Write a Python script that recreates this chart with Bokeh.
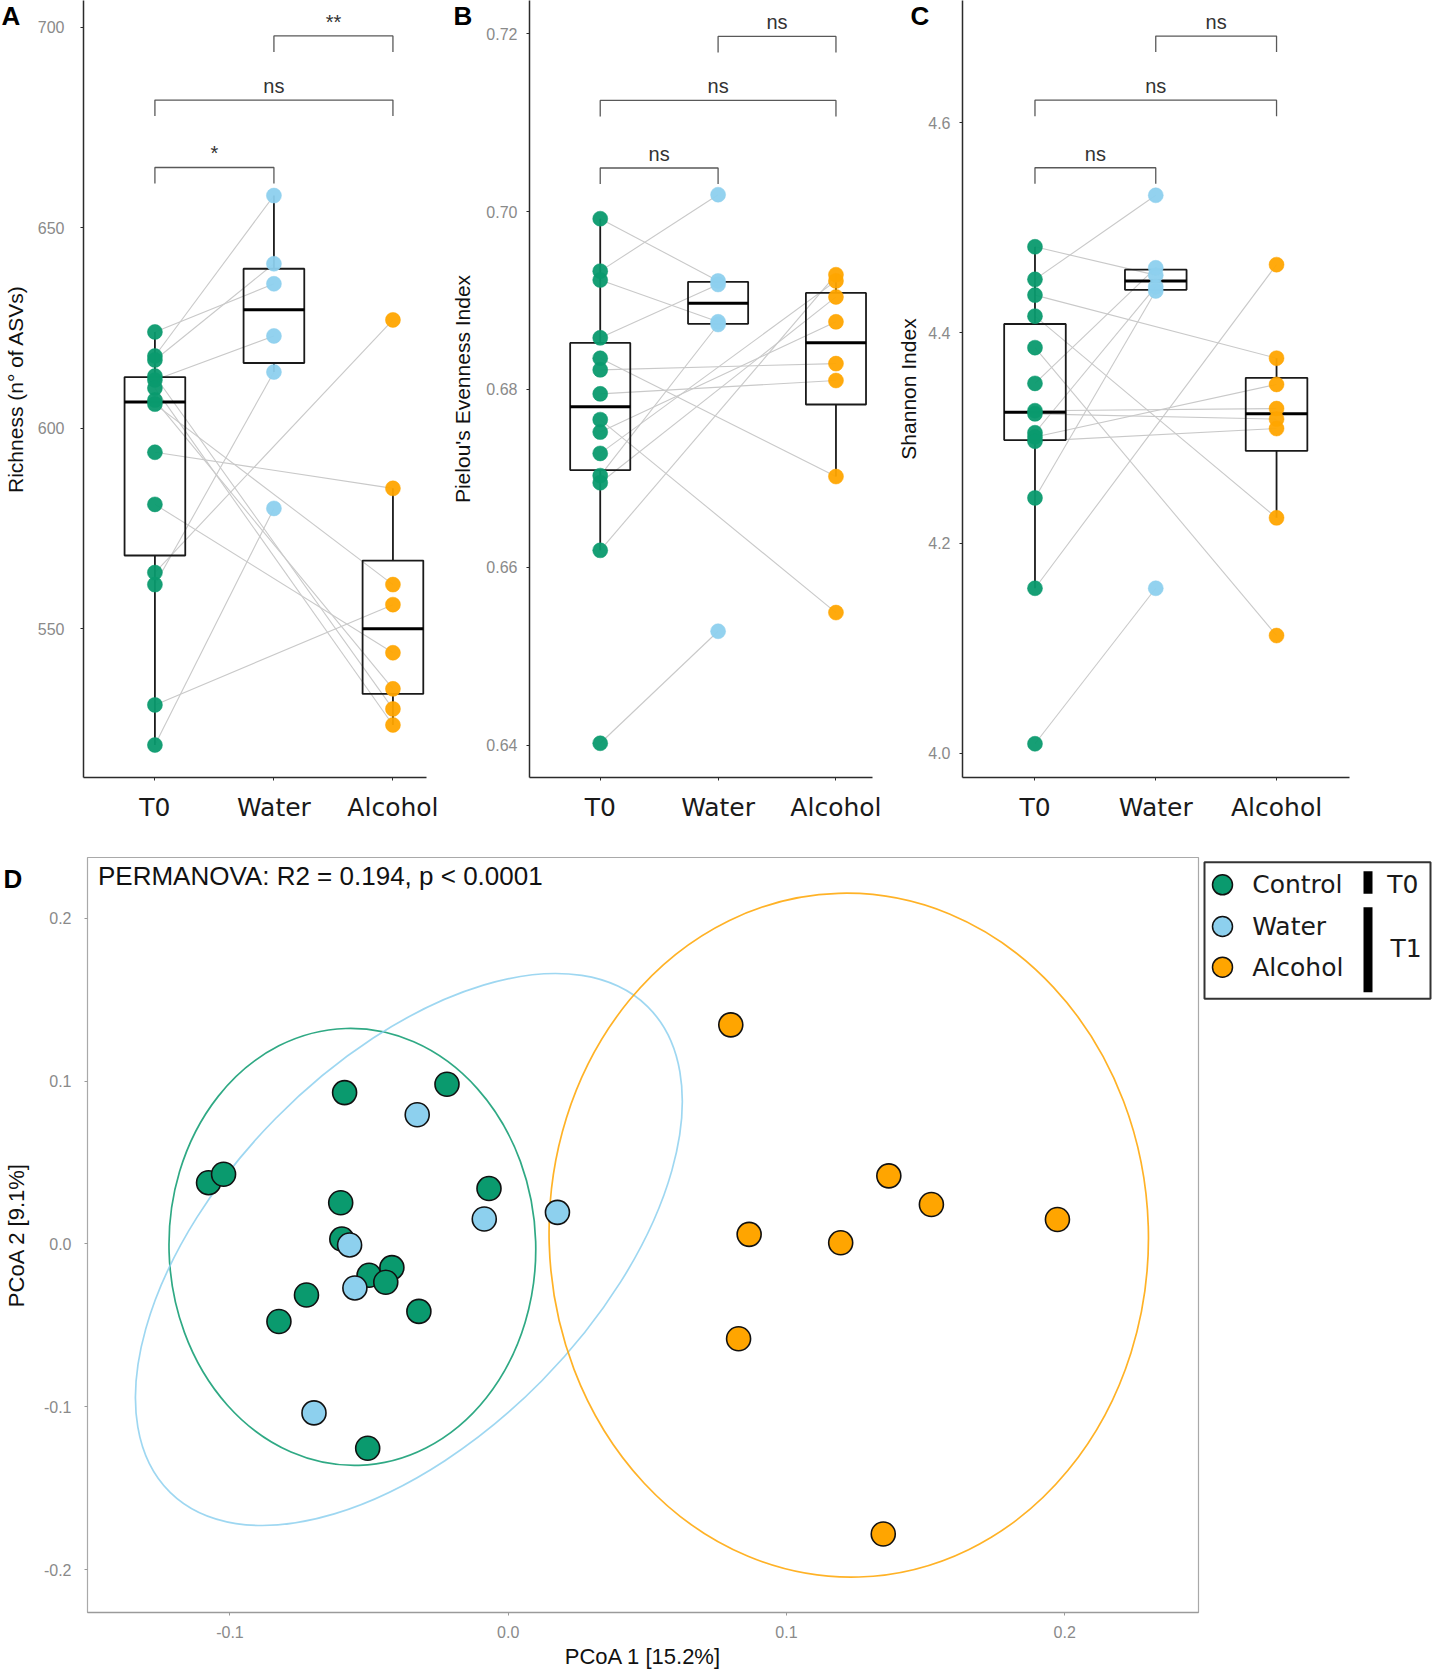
import numpy as np
from bokeh.plotting import figure
from bokeh.models import Range1d, FixedTicker, CustomJSTickFormatter, Label
from bokeh.layouts import row, column
from bokeh.embed import file_html
from bokeh.resources import INLINE
from bokeh.core.properties import value

# ------------------------------------------------------------------ data
categories = ["T0", "Water", "Alcohol"]
follow_group = ["Water"] * 6 + ["Alcohol"] * 8  # per subject, T1 treatment

richness_t0 = [624, 618, 617, 612, 561, 521, 613, 610, 607, 606, 594, 581, 564, 531]
richness_t1 = [636, 658, 641, 623, 614, 580, 530, 526, 535, 561, 585, 544, 627, 556]

pielou_t0 = [0.6992, 0.6933, 0.6923, 0.6858, 0.6703, 0.6402, 0.6619, 0.6766,
             0.6835, 0.6695, 0.6728, 0.6752, 0.6795, 0.6822]
pielou_t1 = [0.6922, 0.7019, 0.6876, 0.6918, 0.6873, 0.6528, 0.6929, 0.6549,
             0.6702, 0.6904, 0.6922, 0.6876, 0.6810, 0.6829]

shannon_t0 = [4.009, 4.243, 4.482, 4.451, 4.352, 4.305, 4.157, 4.436,
              4.416, 4.386, 4.326, 4.323, 4.301, 4.297]
shannon_t1 = [4.157, 4.440, 4.455, 4.531, 4.462, 4.444, 4.465, 4.376,
              4.224, 4.112, 4.328, 4.318, 4.351, 4.309]

sig_pairs = [(1, 2), (1, 3), (2, 3)]
richness_sig = ["*", "ns", "**"]
pielou_sig = ["ns", "ns", "ns"]
shannon_sig = ["ns", "ns", "ns"]
richness_bracket_y = [665.0, 681.8, 697.8]
pielou_bracket_y = [0.7049, 0.7125, 0.7197]
shannon_bracket_y = [4.5572, 4.6215, 4.6825]

richness_ticks = [550, 600, 650, 700]
pielou_ticks = [0.64, 0.66, 0.68, 0.70, 0.72]
shannon_ticks = [4.0, 4.2, 4.4, 4.6]

control_pc1 = [-0.1077, -0.1023, -0.0588, -0.0220, -0.0602, -0.0598, -0.0069,
               -0.0500, -0.0418, -0.0440, -0.0725, -0.0824, -0.0321, -0.0505]
control_pc2 = [0.0376, 0.0428, 0.0929, 0.0980, 0.0253, 0.0030, 0.0340,
               -0.0192, -0.0145, -0.0235, -0.0313, -0.0476, -0.0414, -0.1254]
water_pc1 = [-0.0327, -0.0086, 0.0177, -0.0570, -0.0551, -0.0698]
water_pc2 = [0.0793, 0.0153, 0.0194, -0.0006, -0.0270, -0.1037]
alcohol_pc1 = [0.0800, 0.1368, 0.1521, 0.1974, 0.0866, 0.1195, 0.0828, 0.1348]
alcohol_pc2 = [0.1345, 0.0418, 0.0242, 0.0150, 0.0059, 0.0007, -0.0582, -0.1780]

ellipse_group = ["Control", "Water", "Alcohol"]
ellipse_cx = [-0.0560, -0.0357, 0.1224]
ellipse_cy = [-0.0018, -0.0034, 0.0054]
ellipse_w = [0.1318, 0.2448, 0.2154]
ellipse_h = [0.2683, 0.2294, 0.4198]
ellipse_angle = [0.03, 0.794, 0.03]

pcoa_ticks = [-0.2, -0.1, 0.0, 0.1, 0.2]
permanova_text = "PERMANOVA: R2 = 0.194, p < 0.0001"
legend_labels = ["Control", "Water", "Alcohol"]
legend_times = ["T0", "T1"]

# ------------------------------------------------------------------ style
GREEN, BLUE, ORANGE = "#0A9A6E", "#8DD0EE", "#FFA500"
point_colors = {"T0": GREEN, "Water": BLUE, "Alcohol": ORANGE}
SANS = "Liberation Sans"
CAT_FONT = "DejaVu Sans"
ROW1_H = 824


def panel_letter(p, letter, x, y, dx, dy, side):
    # placed in a side panel so that it is not clipped to the plot frame
    p.add_layout(Label(x=x, y=y, x_offset=dx, y_offset=dy, text=letter,
                       text_baseline="top", text_align="left",
                       text_font=SANS, text_font_style="bold",
                       text_font_size="26px", text_color="black"), side)


def box_panel(t0, t1, ylabel, y0, y1, ticks, fmt, sig, brk_y, drop_px,
              width, bl, br, xend, letter, letter_dx, tick_sd, lab_sd):
    p = figure(width=width, height=ROW1_H, output_backend="svg", toolbar_location=None,
               x_range=Range1d(0.4, xend), y_range=Range1d(y0, y1),
               min_border_left=bl, min_border_right=br, min_border_top=0,
               min_border_bottom=ROW1_H - 779, outline_line_color=None,
               background_fill_color="white", border_fill_color="white")
    p.grid.visible = False
    pos = {c: i + 1 for i, c in enumerate(categories)}
    unit = (y1 - y0) / 779.0
    drop = drop_px * unit

    # paired lines
    p.segment(x0=[pos["T0"]] * len(t0), y0=t0,
              x1=[pos[g] for g in follow_group], y1=t1,
              line_color="#c9c9c9", line_width=1.1)

    groups = {"T0": list(t0),
              "Water": [v for v, g in zip(t1, follow_group) if g == "Water"],
              "Alcohol": [v for v, g in zip(t1, follow_group) if g == "Alcohol"]}
    hw = 0.255
    for c in categories:
        vals = np.array(groups[c], dtype=float)
        q1, med, q3 = np.percentile(vals, [25, 50, 75])
        iqr = q3 - q1
        lo = vals[vals >= q1 - 1.5 * iqr].min()
        hi = vals[vals <= q3 + 1.5 * iqr].max()
        x = pos[c]
        p.segment(x0=[x, x], y0=[q3, q1], x1=[x, x], y1=[hi, lo],
                  line_color="#1a1a1a", line_width=1.8)
        p.quad(left=[x - hw], right=[x + hw], bottom=[q1], top=[q3],
               fill_color=None, line_color="#1a1a1a", line_width=1.8)
        p.segment(x0=[x - hw], y0=[med], x1=[x + hw], y1=[med],
                  line_color="#000000", line_width=3)
    for c in categories:
        p.scatter(x=[pos[c]] * len(groups[c]), y=groups[c], size=15,
                  fill_color=point_colors[c], line_color=point_colors[c],
                  line_alpha=0.5, fill_alpha=0.95)

    # significance brackets
    xs = [[a, a, b, b] for a, b in sig_pairs]
    ys = [[y - drop, y, y, y - drop] for y in brk_y]
    p.multi_line(xs=xs, ys=ys, line_color="#595959", line_width=1.3)
    p.text(x=[(a + b) / 2 for a, b in sig_pairs], y=brk_y, text=sig,
           text_align="center", text_baseline="bottom", y_offset=-3,
           text_font=value(SANS), text_font_size="20px", text_color="#333333")

    # axes
    p.xaxis.ticker = FixedTicker(ticks=[pos[c] for c in categories])
    p.xaxis.major_label_overrides = {pos[c]: c for c in categories}
    p.xaxis.major_label_text_font = CAT_FONT
    p.xaxis.major_label_text_font_size = "25px"
    p.xaxis.major_label_text_color = "#1a1a1a"
    p.xaxis.major_label_standoff = 12
    p.yaxis.ticker = FixedTicker(ticks=ticks)
    p.yaxis.formatter = CustomJSTickFormatter(code=fmt)
    p.yaxis.major_label_text_font = SANS
    p.yaxis.major_label_text_font_size = "16px"
    p.yaxis.major_label_text_color = "#8a8a8a"
    p.yaxis.major_label_standoff = tick_sd
    p.yaxis.axis_label = ylabel
    p.yaxis.axis_label_text_font = SANS
    p.yaxis.axis_label_text_font_size = "21px"
    p.yaxis.axis_label_text_font_style = "normal"
    p.yaxis.axis_label_text_color = "#111111"
    p.yaxis.axis_label_standoff = lab_sd
    for ax in (p.xaxis, p.yaxis):
        ax.axis_line_color = "#2b2b2b"
        ax.axis_line_width = 1.5
        ax.major_tick_line_color = "#2b2b2b"
        ax.major_tick_out = 3
        ax.major_tick_in = 0
        ax.minor_tick_line_color = None
    panel_letter(p, letter, 0.4, y1, letter_dx, 0, "right")
    return p


fA = box_panel(richness_t0, richness_t1, "Richness (n° of ASVs)", 512.9, 706.64,
               richness_ticks, "return tick.toFixed(0)", richness_sig,
               richness_bracket_y, 16, 448, 83, 22, 3.282, "A", -82, 16, 8)
fB = box_panel(pielou_t0, pielou_t1, "Pielou's Evenness Index", 0.63635, 0.72374,
               pielou_ticks, "return tick.toFixed(2)", pielou_sig,
               pielou_bracket_y, 16, 446, 80, 22, 3.310, "B", -76, 9, 9)
fC = box_panel(shannon_t0, shannon_t1, "Shannon Index", 3.9769, 4.7164,
               shannon_ticks, "return tick.toFixed(1)", shannon_sig,
               shannon_bracket_y, 16, 539, 68, 84, 3.604, "C", -52, 9, 5)

# ------------------------------------------------------------------ PCoA
ROW2_H = 1674 - ROW1_H
D_TOP = 857 - ROW1_H
DX0, DX1, DY0, DY1 = -0.1512, 0.2481, -0.2262, 0.2372
fD = figure(width=1200, height=ROW2_H, output_backend="svg", toolbar_location=None,
            x_range=Range1d(DX0, DX1), y_range=Range1d(DY0, DY1),
            min_border_left=86, min_border_right=2, min_border_top=D_TOP,
            min_border_bottom=62, outline_line_color="#a9a9a9", outline_line_width=1.2,
            background_fill_color="white", border_fill_color="white")
fD.grid.visible = False
ell_colors = [GREEN, BLUE, ORANGE]
fD.ellipse(x=ellipse_cx, y=ellipse_cy, width=ellipse_w, height=ellipse_h,
           angle=ellipse_angle, fill_color=None, line_color=ell_colors,
           line_width=1.7, line_alpha=0.85)
for xs_, ys_, col in ((control_pc1, control_pc2, GREEN),
                      (water_pc1, water_pc2, BLUE),
                      (alcohol_pc1, alcohol_pc2, ORANGE)):
    fD.scatter(x=xs_, y=ys_, size=24, fill_color=col, line_color="#111111",
               line_width=1.6)
fD.xaxis.ticker = FixedTicker(ticks=pcoa_ticks)
fD.yaxis.ticker = FixedTicker(ticks=pcoa_ticks)
for ax in (fD.xaxis, fD.yaxis):
    ax.formatter = CustomJSTickFormatter(code="return tick.toFixed(1)")
    ax.major_label_text_font = SANS
    ax.major_label_text_font_size = "16px"
    ax.major_label_text_color = "#8a8a8a"
    ax.major_tick_line_color = "#9a9a9a"
    ax.major_tick_out = 3
    ax.major_tick_in = 0
    ax.minor_tick_line_color = None
    ax.axis_label_text_font = SANS
    ax.axis_label_text_font_size = "22px"
    ax.axis_label_text_font_style = "normal"
    ax.axis_label_text_color = "#111111"
fD.xaxis.axis_line_color = "#9a9a9a"
fD.xaxis.axis_line_width = 1.6
fD.yaxis.axis_line_color = None
fD.xaxis.axis_label = "PCoA 1 [15.2%]"
fD.yaxis.axis_label = "PCoA 2 [9.1%]"
fD.xaxis.major_label_standoff = 10
fD.xaxis.axis_label_standoff = 3
fD.yaxis.major_label_standoff = 13
fD.yaxis.axis_label_standoff = 12
fD.add_layout(Label(x=DX0, y=DY1, x_offset=10.5, y_offset=-18, text=permanova_text,
                    text_baseline="middle", text_align="left",
                    text_font=SANS, text_font_size="26px", text_color="#111111"))
panel_letter(fD, "D", DX0, DY1, -84, -6, "above")

# ------------------------------------------------------------------ legend panel
fL = figure(width=233, height=ROW2_H, output_backend="svg", toolbar_location=None,
            x_range=Range1d(0, 233), y_range=Range1d(755, 0),
            min_border_left=0, min_border_right=0, min_border_top=D_TOP,
            min_border_bottom=62, outline_line_color=None,
            background_fill_color="white", border_fill_color="white")
fL.axis.visible = False
fL.grid.visible = False
fL.quad(left=[4], right=[230], top=[4.7], bottom=[141.3], fill_color=None,
        line_color="#333333", line_width=2)
leg_y = [27.3, 69.0, 109.7]
fL.scatter(x=[22] * 3, y=leg_y, size=20, fill_color=ell_colors,
           line_color="#111111", line_width=1.5)
fL.text(x=[51.7] * 3, y=leg_y, text=legend_labels, text_baseline="middle",
        text_align="left", text_font=value(CAT_FONT), text_font_size="25px",
        text_color="#1a1a1a")
fL.quad(left=[163, 163], right=[172, 172], top=[13.7, 49.7], bottom=[36.3, 134.7],
        fill_color="black", line_color=None)
fL.text(x=[186.7, 190.0], y=[27.3, 91.3], text=legend_times, text_baseline="middle",
        text_align="left", text_font=value(CAT_FONT), text_font_size="25px",
        text_color="#1a1a1a")

layout = column(row(fA, fB, fC), row(fD, fL))
open("out.html", "w").write(file_html(layout, INLINE))
